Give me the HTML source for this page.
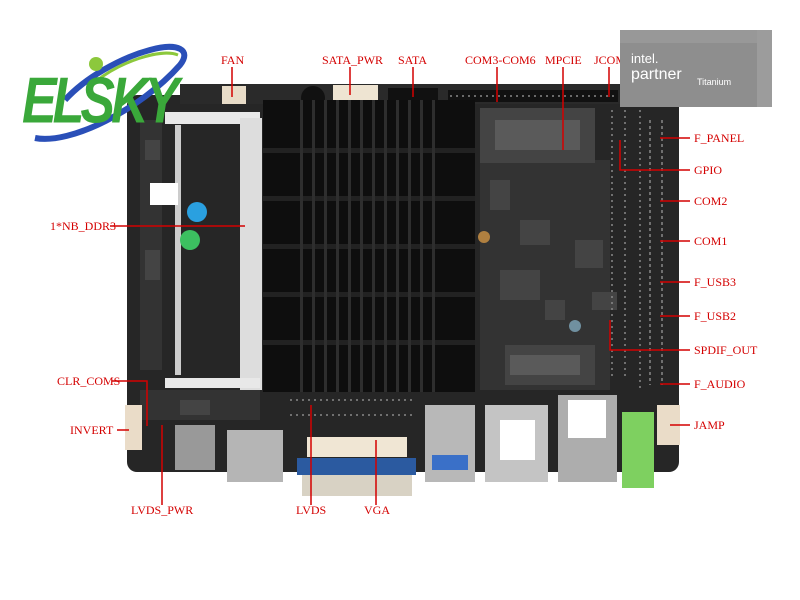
<!DOCTYPE html>
<html><head><meta charset="utf-8"><style>
html,body{margin:0;padding:0;background:#fff;width:800px;height:600px;overflow:hidden}
svg text{font-family:"Liberation Serif",serif;font-size:12px;fill:#d40000}
</style></head><body>
<svg width="800" height="600" viewBox="0 0 800 600" xmlns="http://www.w3.org/2000/svg">
<!-- board -->
<rect x="127" y="95" width="552" height="377" rx="10" fill="#262626"/>
<rect x="180" y="84" width="440" height="20" fill="#2a2a2a"/>
<!-- texture -->
<g fill="#333">
<rect x="140" y="120" width="22" height="250"/><rect x="480" y="160" width="130" height="230"/>
<rect x="140" y="390" width="120" height="30"/>
</g>
<g fill="#444">
<rect x="480" y="108" width="115" height="55"/><rect x="575" y="240" width="28" height="28"/><rect x="592" y="292" width="25" height="18"/><rect x="505" y="345" width="90" height="40"/>
<rect x="490" y="180" width="20" height="30"/><rect x="520" y="220" width="30" height="25"/><rect x="500" y="270" width="40" height="30"/><rect x="545" y="300" width="20" height="20"/>
<rect x="145" y="140" width="15" height="20"/><rect x="145" y="250" width="15" height="30"/><rect x="180" y="400" width="30" height="15"/>
</g>
<g fill="#5a5a5a">
<rect x="495" y="120" width="85" height="30"/><rect x="510" y="355" width="70" height="20"/>
</g>
<circle cx="484" cy="237" r="6" fill="#b08040"/>
<circle cx="575" cy="326" r="6" fill="#7090a0"/>
<!-- top connectors -->
<rect x="222" y="86" width="24" height="18" fill="#e8dcc8"/>
<circle cx="313" cy="98" r="12" fill="#111"/>
<rect x="333" y="85" width="45" height="18" fill="#eee4d2"/>
<rect x="388" y="88" width="50" height="20" fill="#111"/>
<rect x="448" y="90" width="170" height="12" fill="#111"/>
<g stroke="#888" stroke-width="1.5">
<path d="M450 96h165" stroke-dasharray="2 4"/>
<path d="M612 110v270M625 110v270M640 110v280" stroke-dasharray="2 4"/>
<path d="M650 120v265M662 120v265" stroke-dasharray="3 3"/>
<path d="M290 400h125M290 415h125" stroke-dasharray="2 4"/>
</g>
<!-- sodimm -->
<rect x="165" y="112" width="95" height="12" fill="#e8e8e8"/>
<rect x="240" y="118" width="22" height="272" fill="#ddd"/>
<rect x="175" y="125" width="6" height="250" fill="#ccc"/>
<rect x="165" y="378" width="95" height="10" fill="#e8e8e8"/>
<rect x="150" y="183" width="28" height="22" fill="#fff"/>
<circle cx="197" cy="212" r="10" fill="#2aa0e0"/>
<circle cx="190" cy="240" r="10" fill="#3cc060"/>
<!-- heatsink -->
<rect x="263" y="100" width="212" height="292" fill="#0e0e0e"/>
<g fill="#222">
<rect x="263" y="148" width="212" height="5"/><rect x="263" y="196" width="212" height="5"/><rect x="263" y="244" width="212" height="5"/><rect x="263" y="292" width="212" height="5"/><rect x="263" y="340" width="212" height="5"/>
</g>
<g fill="#2e2e2e">
<rect x="300" y="100" width="3" height="292"/><rect x="312" y="100" width="3" height="292"/><rect x="324" y="100" width="3" height="292"/><rect x="336" y="100" width="3" height="292"/><rect x="348" y="100" width="3" height="292"/><rect x="360" y="100" width="3" height="292"/><rect x="372" y="100" width="3" height="292"/><rect x="384" y="100" width="3" height="292"/><rect x="396" y="100" width="3" height="292"/><rect x="408" y="100" width="3" height="292"/><rect x="420" y="100" width="3" height="292"/><rect x="432" y="100" width="3" height="292"/>
</g>
<!-- bottom IO -->
<rect x="125" y="405" width="17" height="45" fill="#eadcc8"/>
<rect x="175" y="425" width="40" height="45" fill="#999"/>
<rect x="227" y="430" width="56" height="52" fill="#b5b5b5"/>
<rect x="307" y="437" width="100" height="20" fill="#f0e6d4"/>
<rect x="297" y="458" width="119" height="17" fill="#2b5aa0"/>
<rect x="302" y="475" width="110" height="21" fill="#d8d2c4"/>
<rect x="425" y="405" width="50" height="77" fill="#b8b8b8"/>
<rect x="432" y="455" width="36" height="15" fill="#3a70c8"/>
<rect x="485" y="405" width="63" height="77" fill="#c4c4c4"/>
<rect x="500" y="420" width="35" height="40" fill="#fff"/>
<rect x="558" y="395" width="59" height="87" fill="#adadad"/>
<rect x="568" y="400" width="38" height="38" fill="#fff"/>
<rect x="622" y="412" width="32" height="76" fill="#7ed060"/>
<rect x="657" y="405" width="23" height="40" fill="#eadcc8"/>
<!-- red lines -->
<g stroke="#d40000" stroke-width="1.5" fill="none">
<path d="M232 67v30M350 67v28M413 67v30M497 67v35M563 67v83M609 67v30"/>
<path d="M660 138h30M620 140v30h70M660 201h30M660 241h30M660 282h30M660 316h30M610 320v30h80M660 384h30M670 425h20"/>
<path d="M110 226h135M112 381h35v45M117 430h12"/>
<path d="M162 505v-80M311 505v-100M376 505v-65"/>
</g>
<!-- labels -->
<text x="221" y="64">FAN</text>
<text x="322" y="64">SATA_PWR</text>
<text x="398" y="64">SATA</text>
<text x="465" y="64">COM3-COM6</text>
<text x="545" y="64">MPCIE</text>
<text x="594" y="64">JCOM</text>
<text x="694" y="142">F_PANEL</text>
<text x="694" y="174">GPIO</text>
<text x="694" y="205">COM2</text>
<text x="694" y="245">COM1</text>
<text x="694" y="286">F_USB3</text>
<text x="694" y="320">F_USB2</text>
<text x="694" y="354">SPDIF_OUT</text>
<text x="694" y="388">F_AUDIO</text>
<text x="694" y="429">JAMP</text>
<text x="50" y="230">1*NB_DDR3</text>
<text x="57" y="385">CLR_COMS</text>
<text x="70" y="434">INVERT</text>
<text x="131" y="514">LVDS_PWR</text>
<text x="296" y="514">LVDS</text>
<text x="364" y="514">VGA</text>
<!-- intel box -->
<rect x="620" y="30" width="152" height="77" fill="#8e8e8e"/>
<rect x="620" y="30" width="152" height="13" fill="#989898"/>
<rect x="757" y="30" width="15" height="77" fill="#9c9c9c"/>
<text x="631" y="63" style="font-family:'Liberation Sans',sans-serif;font-size:13px;fill:#fff">intel.</text>
<text x="631" y="79" style="font-family:'Liberation Sans',sans-serif;font-size:16px;fill:#fff">partner</text>
<text x="697" y="85" style="font-family:'Liberation Sans',sans-serif;font-size:9px;fill:#fff">Titanium</text>
<!-- logo -->
<path d="M35 138 C70 145 140 110 180 65 C192 50 178 42 150 50 C120 58 85 78 65 100" stroke="#2a4fb8" stroke-width="6" fill="none"/>
<path d="M95 82 C120 62 160 48 178 55" stroke="#8cc83c" stroke-width="3" fill="none"/>
<circle cx="96" cy="64" r="7" fill="#8cc83c"/>
<text x="22" y="122" transform="translate(0,-30) scale(1,1.25)" style="font-family:'Liberation Sans',sans-serif;font-weight:bold;font-style:italic;font-size:52px;fill:#3aa83a;letter-spacing:-4px">ELSKY</text>
</svg>
</body></html>
